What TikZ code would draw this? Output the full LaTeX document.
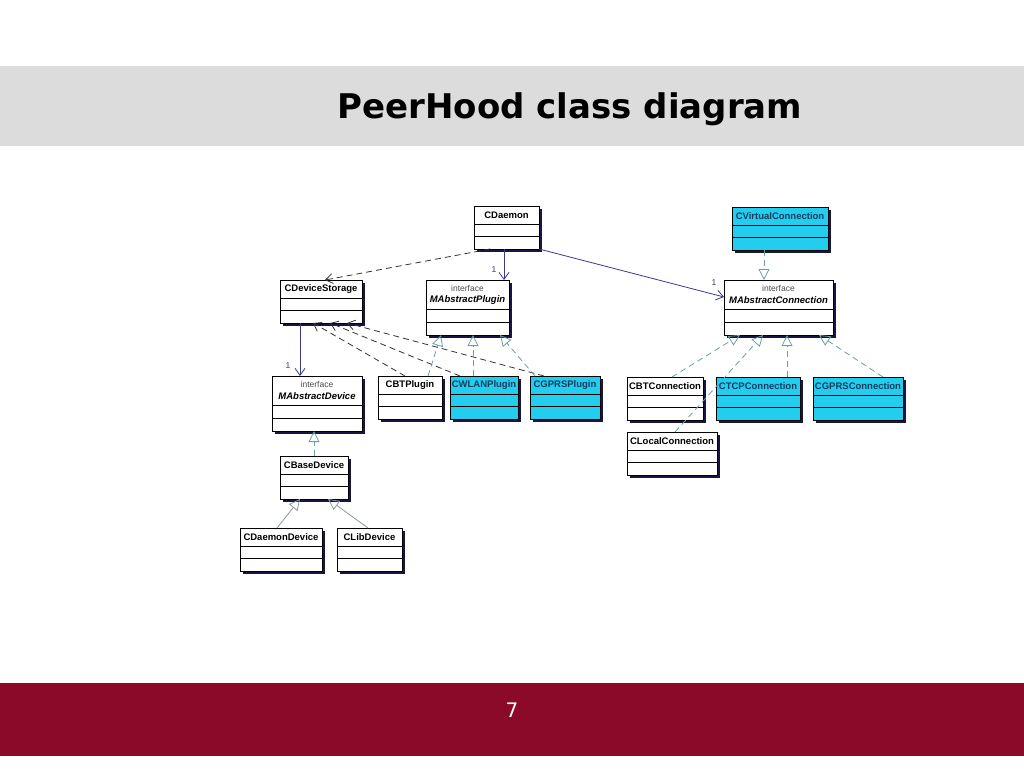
\documentclass[tikz,border=0pt]{standalone}
\usepackage{fontspec}
\setmainfont{Liberation Sans}
\newfontfamily\titlefont{DejaVu Sans}
\usetikzlibrary{arrows.meta,shadows}

\definecolor{bandgray}{HTML}{DCDCDC}
\definecolor{bandred}{HTML}{8B0A2A}
\definecolor{cyanfill}{HTML}{22CDEE}
\definecolor{navy}{HTML}{3A3A8C}
\definecolor{teal2}{HTML}{6AA0A3}
\definecolor{shadowc}{HTML}{161640}
\definecolor{cyantext}{HTML}{183A5C}
\definecolor{gen}{HTML}{8A9A9A}

\tikzset{
 clsbox/.style={draw=black, line width=0.8pt, inner sep=0pt, outer sep=0pt, anchor=north west,
   drop shadow={shadow xshift=2.5pt, shadow yshift=-2.5pt, fill=shadowc, opacity=1}},
 clsname/.style={font=\bfseries\fontsize{9.5}{10}\selectfont, inner sep=0pt},
 ifacekw/.style={font=\fontsize{8.5}{9}\selectfont, text=black!70, inner sep=0pt},
 ifacename/.style={font=\bfseries\itshape\fontsize{9.5}{10}\selectfont, inner sep=0pt},
 compline/.style={line width=0.7pt, black},
 assoc/.style={draw=navy, line width=0.8pt, -{Straight Barb[length=7pt,width=10pt]}},
 depend/.style={draw=black!80, line width=0.8pt, dash pattern=on 6pt off 4pt, -{Straight Barb[length=7pt,width=10pt]}},
 realize/.style={draw=teal2, line width=0.8pt, dash pattern=on 6pt off 4pt, -{Triangle[open,length=11pt,width=11pt]}},
 general/.style={draw=gen, line width=0.8pt, -{Triangle[open,length=11pt,width=11pt]}},
 mult/.style={font=\fontsize{8.5}{9}\selectfont, text=navy, inner sep=0pt},
}

\newcommand{\umlclass}[7]{%
 \pgfmathsetmacro\bw{#4-#2}%
 \node[clsbox, fill=#5, minimum width=\bw pt, minimum height=43pt] (#1) at (#2,#3) {};
 \node[clsname, text=#6] (#1-name) at ({(#2+#4)/2},{#3+9.5}) {#7};
 \draw[compline] (#2,{#3+18}) -- (#4,{#3+18});
 \draw[compline] (#2,{#3+30}) -- (#4,{#3+30});
}
\newcommand{\umliface}[5]{%
 \pgfmathsetmacro\bw{#4-#2}%
 \node[clsbox, fill=white, minimum width=\bw pt, minimum height=55pt] (#1) at (#2,#3) {};
 \node[ifacekw] (#1-kw) at ({(#2+#4)/2},{#3+8}) {interface};
 \node[ifacename] (#1-name) at ({(#2+#4)/2},{#3+20}) {#5};
 \draw[compline] (#2,{#3+29}) -- (#4,{#3+29});
 \draw[compline] (#2,{#3+42}) -- (#4,{#3+42});
}

\begin{document}
\begin{tikzpicture}[x=1pt,y=-1pt]
\useasboundingbox (0,0) rectangle (1024,768);
\fill[white] (0,0) rectangle (1024,768);
\fill[bandgray] (0,66) rectangle (1024,146);
\fill[bandred] (0,683) rectangle (1024,756);
\node[font=\titlefont\bfseries\fontsize{34}{40}\selectfont, anchor=base] (title) at (570,118) {PeerHood class diagram};
\node[font=\titlefont\fontsize{20}{24}\selectfont, text=white, anchor=base] (page) at (512,717) {7};

\umlclass{cdaemon}{474}{206}{539}{white}{black}{CDaemon}
\umlclass{cdevstore}{280}{280}{362}{white}{black}{CDeviceStorage}
\umliface{mplugin}{426}{280}{509}{MAbstractPlugin}
\umlclass{cvirt}{732}{207}{828}{cyanfill}{cyantext}{CVirtualConnection}
\umliface{mconn}{724}{280}{833}{MAbstractConnection}
\umliface{mdevice}{272}{376}{362}{MAbstractDevice}
\umlclass{cbtplugin}{378}{376}{442}{white}{black}{CBTPlugin}
\umlclass{cwlan}{450}{376}{518}{cyanfill}{cyantext}{CWLANPlugin}
\umlclass{cgprsp}{530}{376}{600}{cyanfill}{cyantext}{CGPRSPlugin}
\umlclass{cbtconn}{627}{377}{703}{white}{black}{CBTConnection}
\umlclass{ctcp}{716}{377}{800}{cyanfill}{cyantext}{CTCPConnection}
\umlclass{cgprsc}{813}{377}{903}{cyanfill}{cyantext}{CGPRSConnection}
\umlclass{clocal}{627}{432}{717}{white}{black}{CLocalConnection}
\umlclass{cbase}{280}{456}{348}{white}{black}{CBaseDevice}
\umlclass{cdaemondev}{240}{528}{322}{white}{black}{CDaemonDevice}
\umlclass{clibdev}{337}{528}{402}{white}{black}{CLibDevice}

% dependencies
\draw[depend] ([xshift=16pt]cdaemon.south west) -- ([xshift=45pt]cdevstore.north west);
\draw[depend] ([xshift=27pt]cbtplugin.north west) -- ([xshift=33pt]cdevstore.south west);
\draw[depend] ([xshift=10pt]cwlan.north west) -- ([xshift=50pt]cdevstore.south west);
\draw[depend] ([xshift=14pt]cgprsp.north west) -- ([xshift=67pt]cdevstore.south west);
% associations
\draw[assoc] ([xshift=30pt]cdaemon.south west) -- ([xshift=78pt]mplugin.north west);
\draw[assoc] (cdaemon.south east) -- ([yshift=-17pt]mconn.north west);
\draw[assoc] ([xshift=20pt]cdevstore.south west) -- ([xshift=28pt]mdevice.north west);
\node[mult] (m1) at (494,270) {1};
\node[mult] (m2) at (714,283) {1};
\node[mult] (m3) at (288,366) {1};
% realizations
\draw[realize] ([xshift=50pt]cbtplugin.north west) -- ([xshift=15pt]mplugin.south west);
\draw[realize] ([xshift=23pt]cwlan.north west) -- ([xshift=47pt]mplugin.south west);
\draw[realize] ([xshift=5pt]cgprsp.north west) -- ([xshift=74pt]mplugin.south west);
\draw[realize] ([xshift=32pt]cvirt.south west) -- ([xshift=40pt]mconn.north west);
\draw[realize] ([xshift=45pt]cbtconn.north west) -- ([xshift=16pt]mconn.south west);
\draw[realize] ([xshift=48pt]clocal.north west) -- ([xshift=39pt]mconn.south west);
\draw[realize] ([xshift=71pt]ctcp.north west) -- ([xshift=63pt]mconn.south west);
\draw[realize] ([xshift=70pt]cgprsc.north west) -- ([xshift=95pt]mconn.south west);
\draw[realize] ([xshift=34pt]cbase.north west) -- ([xshift=42pt]mdevice.south west);
% generalizations
\draw[general] ([xshift=37pt]cdaemondev.north west) -- ([xshift=20pt]cbase.south west);
\draw[general] ([xshift=31pt]clibdev.north west) -- ([xshift=48pt]cbase.south west);
\end{tikzpicture}
\end{document}
